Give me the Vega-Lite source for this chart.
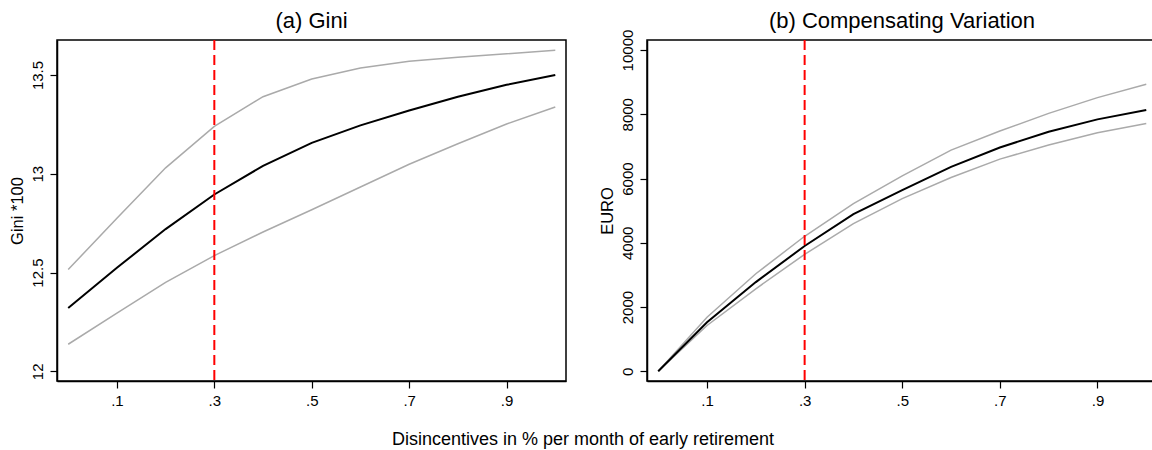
{
  "$schema": "https://vega.github.io/schema/vega-lite/v6.json",
  "padding": {"left": 8, "top": 8, "right": 0, "bottom": 0},
  "autosize": {"type": "pad"},
  "datasets": {
    "gini": [
      {"x": 0.0, "est": 12.32, "lo": 12.137, "hi": 12.515},
      {"x": 0.1, "est": 12.524, "lo": 12.294, "hi": 12.775},
      {"x": 0.2, "est": 12.72, "lo": 12.45, "hi": 13.03},
      {"x": 0.3, "est": 12.895, "lo": 12.586, "hi": 13.24},
      {"x": 0.4, "est": 13.04, "lo": 12.705, "hi": 13.39},
      {"x": 0.5, "est": 13.156, "lo": 12.818, "hi": 13.48},
      {"x": 0.6, "est": 13.245, "lo": 12.933, "hi": 13.535},
      {"x": 0.7, "est": 13.32, "lo": 13.048, "hi": 13.57},
      {"x": 0.8, "est": 13.39, "lo": 13.152, "hi": 13.59},
      {"x": 0.9, "est": 13.45, "lo": 13.252, "hi": 13.607},
      {"x": 1.0, "est": 13.5, "lo": 13.338, "hi": 13.625}
    ],
    "cv": [
      {"x": 0.0, "est": 0, "lo": 0, "hi": 0},
      {"x": 0.1, "est": 1529, "lo": 1425, "hi": 1685},
      {"x": 0.2, "est": 2777, "lo": 2568, "hi": 3036},
      {"x": 0.3, "est": 3900, "lo": 3641, "hi": 4203},
      {"x": 0.4, "est": 4889, "lo": 4597, "hi": 5221},
      {"x": 0.5, "est": 5638, "lo": 5376, "hi": 6084},
      {"x": 0.6, "est": 6365, "lo": 6032, "hi": 6886},
      {"x": 0.7, "est": 6967, "lo": 6605, "hi": 7479},
      {"x": 0.8, "est": 7457, "lo": 7042, "hi": 8028},
      {"x": 0.9, "est": 7841, "lo": 7426, "hi": 8518},
      {"x": 1.0, "est": 8134, "lo": 7716, "hi": 8933}
    ],
    "cutoff": [{"x": 0.3}]
  },
  "title": {
    "text": "Disincentives in % per month of early retirement",
    "orient": "bottom",
    "anchor": "middle",
    "frame": "bounds",
    "fontSize": 18,
    "baseline": "alphabetic",
    "offset": 36
  },
  "spacing": 81,
  "bounds": "flush",
  "hconcat": [
    {
      "width": 509,
      "height": 341,
      "title": {"text": "(a) Gini", "offset": 6.5},
      "data": {"name": "gini"},
      "encoding": {
        "x": {
          "field": "x",
          "type": "quantitative",
          "scale": {"domain": [-0.023, 1.022], "nice": false, "zero": false},
          "axis": {"values": [0.1, 0.3, 0.5, 0.7, 0.9], "labelExpr": "slice(format(datum.value, '.1f'), 1)", "title": null}
        }
      },
      "layer": [
        {
          "mark": {"type": "line", "color": "#aaaaaa", "strokeWidth": 1.5},
          "encoding": {
            "y": {"field": "hi", "type": "quantitative", "scale": {"domain": [11.951, 13.677], "nice": false, "zero": false},
              "axis": {"values": [12, 12.5, 13, 13.5], "format": "~g", "title": "Gini *100"}}
          }
        },
        {
          "mark": {"type": "line", "color": "#aaaaaa", "strokeWidth": 1.5},
          "encoding": {
            "y": {"field": "lo", "type": "quantitative", "scale": {"domain": [11.951, 13.677], "nice": false, "zero": false},
              "axis": {"values": [12, 12.5, 13, 13.5], "format": "~g", "title": "Gini *100"}}
          }
        },
        {
          "mark": {"type": "line", "color": "black", "strokeWidth": 2},
          "encoding": {
            "y": {"field": "est", "type": "quantitative", "scale": {"domain": [11.951, 13.677], "nice": false, "zero": false},
              "axis": {"values": [12, 12.5, 13, 13.5], "format": "~g", "title": "Gini *100"}}
          }
        },
        {
          "data": {"name": "cutoff"},
          "mark": {"type": "rule", "color": "#ff0000", "strokeWidth": 2, "strokeDash": [10, 5]},
          "encoding": {"x": {"field": "x", "type": "quantitative"}}
        }
      ]
    },
    {
      "width": 510,
      "height": 341,
      "title": {"text": "(b) Compensating Variation", "offset": -4},
      "data": {"name": "cv"},
      "encoding": {
        "x": {
          "field": "x",
          "type": "quantitative",
          "scale": {"domain": [-0.023, 1.022], "nice": false, "zero": false},
          "axis": {"values": [0.1, 0.3, 0.5, 0.7, 0.9], "labelExpr": "slice(format(datum.value, '.1f'), 1)", "title": null}
        }
      },
      "layer": [
        {
          "mark": {"type": "line", "color": "#aaaaaa", "strokeWidth": 1.5},
          "encoding": {
            "y": {"field": "hi", "type": "quantitative", "scale": {"domain": [-302, 10312], "nice": false, "zero": false},
              "axis": {"values": [0, 2000, 4000, 6000, 8000, 10000], "format": "d", "title": "EURO"}}
          }
        },
        {
          "mark": {"type": "line", "color": "#aaaaaa", "strokeWidth": 1.5},
          "encoding": {
            "y": {"field": "lo", "type": "quantitative", "scale": {"domain": [-302, 10312], "nice": false, "zero": false},
              "axis": {"values": [0, 2000, 4000, 6000, 8000, 10000], "format": "d", "title": "EURO"}}
          }
        },
        {
          "mark": {"type": "line", "color": "black", "strokeWidth": 2},
          "encoding": {
            "y": {"field": "est", "type": "quantitative", "scale": {"domain": [-302, 10312], "nice": false, "zero": false},
              "axis": {"values": [0, 2000, 4000, 6000, 8000, 10000], "format": "d", "title": "EURO"}}
          }
        },
        {
          "data": {"name": "cutoff"},
          "mark": {"type": "rule", "color": "#ff0000", "strokeWidth": 2, "strokeDash": [10, 5]},
          "encoding": {"x": {"field": "x", "type": "quantitative"}}
        }
      ]
    }
  ],
  "config": {
    "font": "Liberation Sans",
    "view": {"stroke": "black", "strokeWidth": 1.5},
    "axis": {
      "grid": false,
      "domainColor": "black",
      "domainWidth": 1.5,
      "tickColor": "black",
      "tickSize": 7,
      "tickWidth": 1.2,
      "labelFontSize": 15,
      "labelColor": "black",
      "labelPadding": 5,
      "titleFontSize": 16.5,
      "titleFontWeight": "normal",
      "titleColor": "black"
    },
    "axisY": {"labelAngle": -90, "titlePadding": 5},
    "title": {"fontSize": 22, "fontWeight": "normal", "color": "black", "frame": "group", "baseline": "alphabetic"}
  }
}
